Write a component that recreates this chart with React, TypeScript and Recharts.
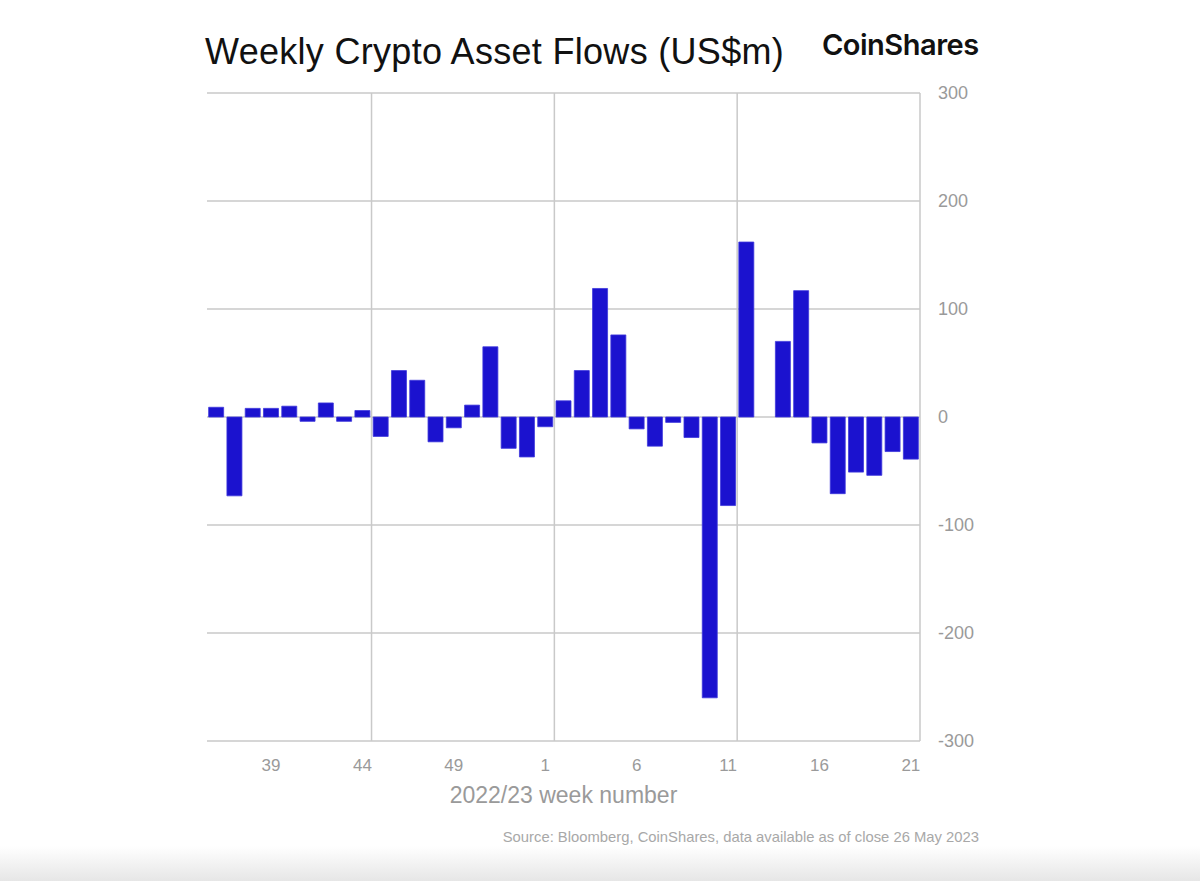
import { BarChart, Bar, XAxis, YAxis, CartesianGrid } from 'recharts';

// week numbers, 2022 (36..53) then 2023 (1..21)
const weeks = [
    '36', '37', '38', '39', '40', '41', '42', '43', '44', '45', '46', '47', '48', '49', '50', '51', '52', '53',
    '1', '2', '3', '4', '5', '6', '7', '8', '9', '10', '11', '12', '13', '14', '15', '16', '17', '18', '19', '20', '21',
];

// weekly flows, US$m
const flows = [
    9, -73, 8, 8, 10, -4, 13, -4, 6, -18, 43, 34, -23, -10, 11, 65, -29, -37,
    -9, 15, 43, 119, 76, -11, -27, -5, -19, -260, -82, 162, 0, 70, 117, -24, -71, -51, -54, -32, -39,
];

const xTicks = ['39', '44', '49', '1', '6', '11', '16', '21'];
const yTicks = [-300, -200, -100, 0, 100, 200, 300];
// vertical grid lines sit after every 10th bar
const gridAfter = [9, 19, 29, 39];

const data = weeks.map((week, i) => ({ week, flow: flows[i] }));

const font = '"Liberation Sans", Arial, sans-serif';
const grey = '#9a9a9a';

export default function App() {
    return (
        <div style={{ position: 'absolute', left: 0, top: 0, width: 1200, height: 881, background: '#fff', fontFamily: font, overflow: 'hidden' }}>
            <div style={{ position: 'absolute', left: 205, top: 34, fontSize: 36, lineHeight: 1, letterSpacing: 0.3, color: '#111', whiteSpace: 'nowrap' }}>
                Weekly Crypto Asset Flows (US$m)
            </div>
            <div style={{ position: 'absolute', left: 822, top: 30, fontSize: 29, lineHeight: 1, fontWeight: 600, fontFamily: 'Inter, sans-serif', letterSpacing: -0.5, color: '#111', whiteSpace: 'nowrap' }}>
                CoinShares
            </div>

            <BarChart
                width={1200}
                height={881}
                data={data}
                margin={{ top: 93, right: 220, left: 207, bottom: 70 }}
                barCategoryGap="9%"
                style={{ position: 'absolute', left: 0, top: 0 }}
            >
                <CartesianGrid
                    stroke="#c9c9c9"
                    strokeWidth={1.5}
                    verticalCoordinatesGenerator={({ offset }: any) =>
                        gridAfter.map((n) => offset.left + (n * offset.width) / weeks.length)
                    }
                />
                <XAxis
                    dataKey="week"
                    ticks={xTicks}
                    interval={0}
                    height={70}
                    axisLine={false}
                    tickLine={false}
                    tickSize={6}
                    tickMargin={12}
                    tick={{ fill: grey, fontSize: 17, fontFamily: font }}
                    label={{ value: '2022/23 week number', position: 'insideTop', offset: 46, fill: grey, fontSize: 23, fontFamily: font }}
                />
                <YAxis
                    orientation="right"
                    width={60}
                    domain={[-300, 300]}
                    ticks={yTicks}
                    axisLine={false}
                    tickLine={false}
                    tickSize={6}
                    tickMargin={12}
                    tick={{ fill: grey, fontSize: 18, fontFamily: font, textAnchor: 'start' }}
                />
                <Bar dataKey="flow" fill="#1b12cf" stroke="#3d37dc" strokeWidth={0.8} isAnimationActive={false} />
            </BarChart>

            <div style={{ position: 'absolute', right: 221, top: 830, fontSize: 14.8, lineHeight: 1, color: '#a8a8a8', whiteSpace: 'nowrap' }}>
                Source: Bloomberg, CoinShares, data available as of close 26 May 2023
            </div>
            <div style={{ position: 'absolute', left: 0, top: 846, width: 1200, height: 35, background: 'linear-gradient(#ffffff, #e6e6e6)' }} />
        </div>
    );
}
